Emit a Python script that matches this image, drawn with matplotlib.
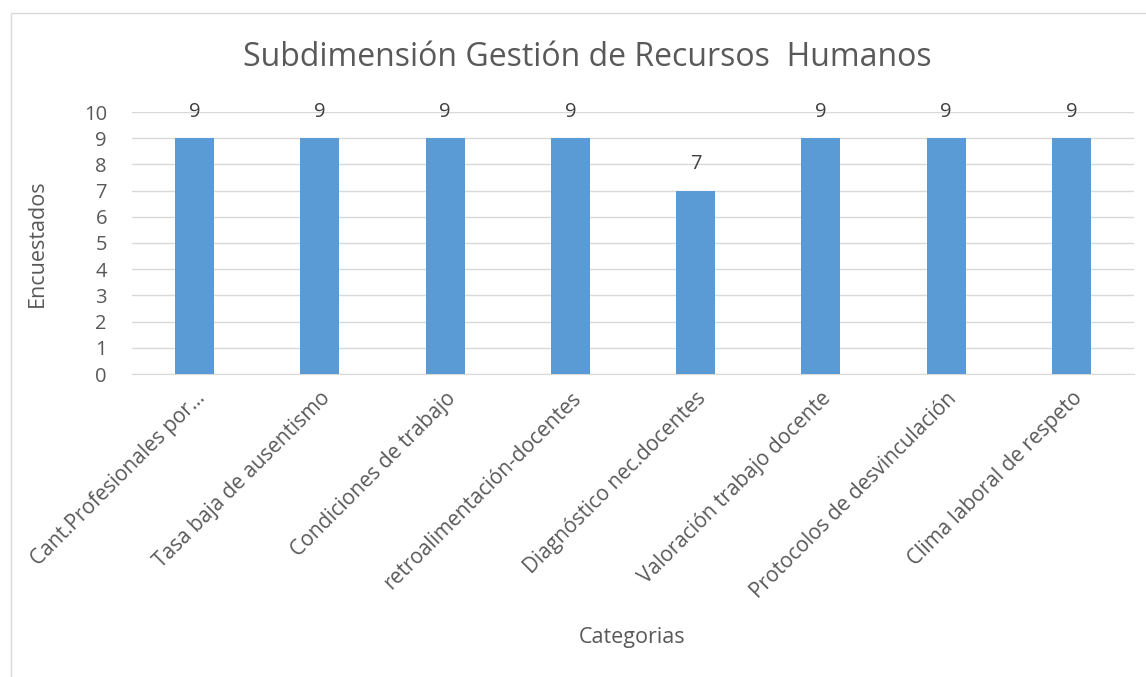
import matplotlib
matplotlib.use("Agg")
import matplotlib.pyplot as plt
from matplotlib.patches import Rectangle

categories = ["Cant.Profesionales por…", "Tasa baja de ausentismo", "Condiciones de trabajo",
              "retroalimentación-docentes", "Diagnóstico nec.docentes", "Valoración trabajo docente",
              "Protocolos de desvinculación", "Clima laboral de respeto"]
values = [9, 9, 9, 9, 7, 9, 9, 9]
yticks = list(range(0, 11))

plt.rcParams['font.family'] = ['Open Sans', 'DejaVu Sans']
txt = '#595959'

fig = plt.figure(figsize=(11.46, 6.77), dpi=100)
fig.patches.append(Rectangle((11/1146, -0.01), 1.1, 1 - 13/677 + 0.01, transform=fig.transFigure,
                             fill=False, edgecolor='#D9D9D9', linewidth=1))
ax = fig.add_axes([132/1146, 1 - 374/677, 1002/1146, 262/677])
x = list(range(len(categories)))
bars = ax.bar(x, values, width=0.31, color='#5B9BD5', zorder=3)
ax.set_xlim(-0.5, len(categories) - 0.5)
ax.set_ylim(0, 10)
ax.set_yticks(yticks)
ax.yaxis.grid(True, color='#D9D9D9', linewidth=1, zorder=0)
for s in ['top', 'right', 'left']:
    ax.spines[s].set_visible(False)
ax.spines['bottom'].set_color('#D9D9D9')
ax.tick_params(axis='both', length=0, labelsize=14.5, colors=txt)
ax.tick_params(axis='y', pad=18)
ax.set_xticks(x)
ax.set_xticklabels(categories, rotation=45, ha='right', rotation_mode='anchor', fontsize=15, color=txt)
ax.tick_params(axis='x', pad=10)
for xi, v in zip(x, values):
    ax.annotate(str(v), (xi, v), xytext=(0, 19), textcoords='offset points', ha='center', va='center',
                fontsize=14.5, color='#404040')
ax.set_ylabel('Encuestados', fontsize=15.5, color=txt, labelpad=26)
fig.text(632/1146, 1 - 637/677, 'Categorias', ha='center', va='center', fontsize=15.5, color=txt)
fig.text(587/1146, 1 - 58/677, 'Subdimensión Gestión de Recursos  Humanos', ha='center', va='center',
         fontsize=23, color=txt)
fig.savefig('out.png', dpi=100)
